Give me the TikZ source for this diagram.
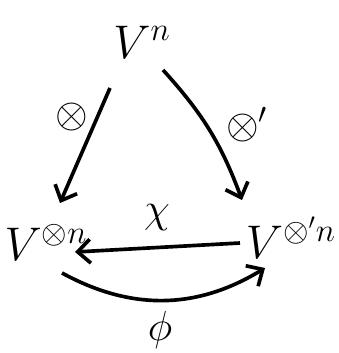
\documentclass[tikz,border=0pt]{standalone}
\usetikzlibrary{arrows.meta}
\begin{document}
\begin{tikzpicture}[x=0.025cm, y=-0.025cm, line width=2.6pt,
  obj/.style={font=\fontsize{24}{28}\selectfont, inner sep=0pt, scale=1.35, transform shape},
  lbl/.style={font=\fontsize{24}{28}\selectfont, inner sep=0pt, scale=1.2, transform shape},
  map/.style={-{Straight Barb[length=9pt,width=17pt,line width=2.6pt]}}]
  \useasboundingbox (0,0) rectangle (339,353);
  % objects
  \node[obj] (vn) at (142,42)  {$V^n$};
  \node[obj] (vl) at (46,242)  {$V^{\otimes n}$};
  \node[obj] (vr) at (291,238) {$V^{\otimes' n}$};
  % maps
  \draw[map] ([shift={(-32,46)}]vn.center) -- ([shift={(14,-39)}]vl.center);
  \draw[map] ([shift={(21,28)}]vn.center) to[bend left=11] ([shift={(-49,-38)}]vr.center);
  \draw[map] ([shift={(-51,5)}]vr.center) -- ([shift={(29,10)}]vl.center);
  \draw[map] ([shift={(16,31)}]vl.center) to[bend right=30] ([shift={(-26,30)}]vr.center);
  % labels
  \node[lbl] (tens)  at (72,117)  {$\otimes$};
  \node[lbl] (tensp) at (247,125) {$\otimes'$};
  \node[lbl] (chi)   at (157,218) {$\chi$};
  \node[lbl] (phi)   at (160,330) {$\phi$};
\end{tikzpicture}
\end{document}
